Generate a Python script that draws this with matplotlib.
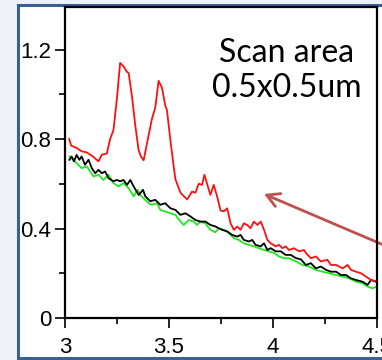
import matplotlib
matplotlib.use("Agg")
import matplotlib.pyplot as plt
from matplotlib.patches import Rectangle, FancyArrowPatch
from matplotlib.ticker import MultipleLocator

# --- data ---
x_red = [3.02, 3.03, 3.056, 3.08, 3.105, 3.137, 3.161, 3.177, 3.201, 3.217, 3.233, 3.249,
         3.265, 3.281, 3.298, 3.306, 3.322, 3.338, 3.354, 3.366, 3.378, 3.394, 3.418, 3.434,
         3.45, 3.466, 3.482, 3.49, 3.506, 3.522, 3.531, 3.547, 3.555, 3.587, 3.611, 3.627,
         3.643, 3.659, 3.67, 3.683, 3.699, 3.715, 3.731, 3.748, 3.764, 3.78, 3.796, 3.812,
         3.828, 3.844, 3.86, 3.876, 3.892, 3.908, 3.925, 3.941, 3.957, 3.973, 3.989, 4.013,
         4.029, 4.045, 4.061, 4.077, 4.101, 4.125, 4.149, 4.158, 4.182, 4.206, 4.23, 4.262,
         4.278, 4.303, 4.335, 4.359, 4.375, 4.399, 4.423, 4.447, 4.471, 4.495]
y_red = [0.80, 0.77, 0.76, 0.745, 0.74, 0.72, 0.70, 0.73, 0.735, 0.80, 0.84, 0.975,
         1.14, 1.125, 1.10, 1.095, 0.99, 0.86, 0.75, 0.72, 0.705, 0.78, 0.89, 0.94,
         1.06, 1.03, 0.95, 0.93, 0.80, 0.68, 0.62, 0.58, 0.56, 0.53, 0.565, 0.56,
         0.60, 0.595, 0.64, 0.60, 0.55, 0.595, 0.545, 0.48, 0.477, 0.49, 0.423, 0.394,
         0.409, 0.394, 0.423, 0.416, 0.401, 0.431, 0.416, 0.431, 0.394, 0.349, 0.334, 0.32,
         0.327, 0.312, 0.32, 0.304, 0.312, 0.298, 0.304, 0.291, 0.267, 0.275, 0.253, 0.26,
         0.237, 0.237, 0.222, 0.237, 0.215, 0.207, 0.20, 0.185, 0.17, 0.165]

x_black = [3.021, 3.032, 3.043, 3.056, 3.069, 3.08, 3.096, 3.113, 3.129, 3.145, 3.161, 3.177,
           3.193, 3.209, 3.233, 3.249, 3.265, 3.281, 3.298, 3.314, 3.33, 3.354, 3.362, 3.375,
           3.386, 3.41, 3.434, 3.458, 3.482, 3.506, 3.531, 3.555, 3.579, 3.603, 3.627, 3.651,
           3.675, 3.699, 3.723, 3.739, 3.756, 3.78, 3.804, 3.828, 3.844, 3.86, 3.884, 3.9,
           3.916, 3.941, 3.957, 3.973, 3.989, 4.013, 4.037, 4.061, 4.085, 4.11, 4.134, 4.158,
           4.182, 4.206, 4.23, 4.255, 4.278, 4.303, 4.327, 4.351, 4.375, 4.399, 4.431, 4.455,
           4.471, 4.495]
y_black = [0.707, 0.722, 0.70, 0.729, 0.707, 0.722, 0.685, 0.707, 0.67, 0.647, 0.662, 0.647,
           0.655, 0.625, 0.611, 0.617, 0.611, 0.617, 0.595, 0.617, 0.588, 0.55, 0.558, 0.573,
           0.544, 0.522, 0.528, 0.506, 0.513, 0.491, 0.483, 0.461, 0.468, 0.454, 0.438, 0.431,
           0.431, 0.416, 0.409, 0.401, 0.394, 0.387, 0.371, 0.364, 0.371, 0.349, 0.342, 0.349,
           0.327, 0.32, 0.334, 0.304, 0.312, 0.298, 0.298, 0.282, 0.282, 0.268, 0.262, 0.237,
           0.245, 0.222, 0.23, 0.215, 0.207, 0.207, 0.192, 0.192, 0.177, 0.17, 0.162, 0.148,
           0.17, 0.162]

x_green = [3.021, 3.04, 3.064, 3.08, 3.105, 3.121, 3.137, 3.161, 3.185, 3.209, 3.233, 3.257,
           3.281, 3.306, 3.33, 3.349, 3.362, 3.378, 3.402, 3.418, 3.443, 3.458, 3.482, 3.506,
           3.531, 3.555, 3.571, 3.595, 3.619, 3.635, 3.651, 3.675, 3.699, 3.723, 3.739, 3.764,
           3.788, 3.812, 3.836, 3.86, 3.884, 3.908, 3.932, 3.957, 3.981, 4.005, 4.029, 4.053,
           4.077, 4.11, 4.142, 4.174, 4.206, 4.238, 4.27, 4.303, 4.335, 4.367, 4.399, 4.431,
           4.455, 4.479, 4.505]
y_green = [0.722, 0.707, 0.685, 0.67, 0.677, 0.655, 0.633, 0.64, 0.617, 0.64, 0.603, 0.588,
           0.603, 0.58, 0.544, 0.573, 0.55, 0.535, 0.513, 0.506, 0.513, 0.483, 0.476, 0.468,
           0.461, 0.431, 0.416, 0.438, 0.431, 0.416, 0.431, 0.423, 0.394, 0.383, 0.401, 0.394,
           0.379, 0.357, 0.349, 0.334, 0.327, 0.32, 0.312, 0.304, 0.298, 0.291, 0.275, 0.267,
           0.267, 0.253, 0.237, 0.23, 0.215, 0.207, 0.20, 0.192, 0.185, 0.177, 0.162, 0.155,
           0.14, 0.133, 0.143]

yticks = [0, 0.4, 0.8, 1.2]
ytick_labels = ["0", "0.4", "0.8", "1.2"]
xticks = [3, 3.5, 4, 4.5]
xtick_labels = ["3", "3.5", "4", "4.5"]

plt.rcParams['font.family'] = ['Liberation Sans', 'DejaVu Sans']

fig = plt.figure(figsize=(3.82, 3.60), dpi=100, facecolor='#eef2f8')

# slide panel with blue border (behind the axes)
panel = Rectangle((18 / 382, 2 / 360), 1.2, 353 / 360, transform=fig.transFigure,
                  facecolor='white', edgecolor='#3a6196', linewidth=2.2, zorder=-5)
fig.patches.append(panel)

ax = fig.add_axes([65 / 382, 42 / 360, 312 / 382, 311 / 360])
ax.set_zorder(1)
ax.set_facecolor('white')

ax.plot(x_green, y_green, color='#1ee81e', linewidth=1.3)
ax.plot(x_black, y_black, color='black', linewidth=1.3)
ax.plot(x_red, y_red, color='#ff1010', linewidth=1.3)

ax.set_xlim(3, 4.5)
ax.set_ylim(0, 1.39)
ax.set_xticks(xticks)
ax.set_xticklabels(xtick_labels)
ax.set_yticks(yticks)
ax.set_yticklabels(ytick_labels)
ax.xaxis.set_minor_locator(MultipleLocator(0.25))
ax.yaxis.set_minor_locator(MultipleLocator(0.2))
ax.tick_params(which='major', direction='out', length=7, width=1.2, labelsize=16)
ax.tick_params(axis='x', which='major', pad=7)
ax.tick_params(axis='y', which='major', pad=3)
ax.tick_params(which='minor', direction='out', length=4.5, width=1.2)
for sp in ax.spines.values():
    sp.set_linewidth(1.6)

# annotation text and arrow (drawn on top of the axes)
ax.text(287 / 382, 1 - 62 / 360, "Scan area", ha='center', va='baseline',
        fontsize=23, family=['Lato', 'DejaVu Sans'], transform=fig.transFigure)
ax.text(287 / 382, 1 - 97 / 360, "0.5x0.5um", ha='center', va='baseline',
        fontsize=23, family=['Lato', 'DejaVu Sans'], transform=fig.transFigure)
arrow = FancyArrowPatch((400 / 382, 1 - 252 / 360), (264 / 382, 1 - 194 / 360),
                        transform=fig.transFigure, arrowstyle='->,head_length=9,head_width=5',
                        color='#bf504d', linewidth=2.0, shrinkA=0, shrinkB=0, clip_on=False)
ax.add_artist(arrow)

fig.savefig('out.png', dpi=100, facecolor=fig.get_facecolor())
